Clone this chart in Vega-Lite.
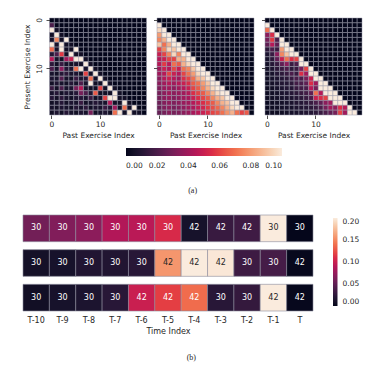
{
"$schema":"https://vega.github.io/schema/vega-lite/v6.json",
"padding":{"left":22,"top":17,"right":4,"bottom":4},
"config":{"font":"DejaVu Sans","view":{"stroke":null},
"axis":{"domain":false,"grid":false,"tickColor":"#262626","tickSize":3.5,"tickWidth":0.8,"labelPadding":2,"titlePadding":3,"labelFontSize":7.5,"titleFontSize":7.5,"titleFontWeight":"normal","labelColor":"#262626","titleColor":"#262626","labelFont":"DejaVu Sans","titleFont":"DejaVu Sans"},
"legend":{"gradientStrokeWidth":0,"labelFontSize":7.5,"labelColor":"#262626","labelFont":"DejaVu Sans"},
"title":{"font":"Liberation Serif","fontSize":8,"fontWeight":"normal","color":"#262626"}},
"datasets":{
"p1":[
{"r":0,"c":0,"v":0},{"r":0,"c":1,"v":0},{"r":0,"c":2,"v":0},{"r":0,"c":3,"v":0},{"r":0,"c":4,"v":0},{"r":0,"c":5,"v":0},{"r":0,"c":6,"v":0},{"r":0,"c":7,"v":0},{"r":0,"c":8,"v":0},{"r":0,"c":9,"v":0},{"r":0,"c":10,"v":0},{"r":0,"c":11,"v":0},{"r":0,"c":12,"v":0},{"r":0,"c":13,"v":0},{"r":0,"c":14,"v":0},{"r":0,"c":15,"v":0},{"r":0,"c":16,"v":0},{"r":0,"c":17,"v":0},{"r":0,"c":18,"v":0},{"r":0,"c":19,"v":0},
{"r":1,"c":0,"v":0.02},{"r":1,"c":1,"v":0},{"r":1,"c":2,"v":0},{"r":1,"c":3,"v":0},{"r":1,"c":4,"v":0},{"r":1,"c":5,"v":0},{"r":1,"c":6,"v":0},{"r":1,"c":7,"v":0},{"r":1,"c":8,"v":0},{"r":1,"c":9,"v":0},{"r":1,"c":10,"v":0},{"r":1,"c":11,"v":0},{"r":1,"c":12,"v":0},{"r":1,"c":13,"v":0},{"r":1,"c":14,"v":0},{"r":1,"c":15,"v":0},{"r":1,"c":16,"v":0},{"r":1,"c":17,"v":0},{"r":1,"c":18,"v":0},{"r":1,"c":19,"v":0},
{"r":2,"c":0,"v":0.1},{"r":2,"c":1,"v":0.004},{"r":2,"c":2,"v":0},{"r":2,"c":3,"v":0},{"r":2,"c":4,"v":0},{"r":2,"c":5,"v":0},{"r":2,"c":6,"v":0},{"r":2,"c":7,"v":0},{"r":2,"c":8,"v":0},{"r":2,"c":9,"v":0},{"r":2,"c":10,"v":0},{"r":2,"c":11,"v":0},{"r":2,"c":12,"v":0},{"r":2,"c":13,"v":0},{"r":2,"c":14,"v":0},{"r":2,"c":15,"v":0},{"r":2,"c":16,"v":0},{"r":2,"c":17,"v":0},{"r":2,"c":18,"v":0},{"r":2,"c":19,"v":0},
{"r":3,"c":0,"v":0.004},{"r":3,"c":1,"v":0.1},{"r":3,"c":2,"v":0.004},{"r":3,"c":3,"v":0},{"r":3,"c":4,"v":0},{"r":3,"c":5,"v":0},{"r":3,"c":6,"v":0},{"r":3,"c":7,"v":0},{"r":3,"c":8,"v":0},{"r":3,"c":9,"v":0},{"r":3,"c":10,"v":0},{"r":3,"c":11,"v":0},{"r":3,"c":12,"v":0},{"r":3,"c":13,"v":0},{"r":3,"c":14,"v":0},{"r":3,"c":15,"v":0},{"r":3,"c":16,"v":0},{"r":3,"c":17,"v":0},{"r":3,"c":18,"v":0},{"r":3,"c":19,"v":0},
{"r":4,"c":0,"v":0.006},{"r":4,"c":1,"v":0.075},{"r":4,"c":2,"v":0.004},{"r":4,"c":3,"v":0.1},{"r":4,"c":4,"v":0},{"r":4,"c":5,"v":0},{"r":4,"c":6,"v":0},{"r":4,"c":7,"v":0},{"r":4,"c":8,"v":0},{"r":4,"c":9,"v":0},{"r":4,"c":10,"v":0},{"r":4,"c":11,"v":0},{"r":4,"c":12,"v":0},{"r":4,"c":13,"v":0},{"r":4,"c":14,"v":0},{"r":4,"c":15,"v":0},{"r":4,"c":16,"v":0},{"r":4,"c":17,"v":0},{"r":4,"c":18,"v":0},{"r":4,"c":19,"v":0},
{"r":5,"c":0,"v":0.1},{"r":5,"c":1,"v":0.006},{"r":5,"c":2,"v":0.1},{"r":5,"c":3,"v":0.004},{"r":5,"c":4,"v":0.004},{"r":5,"c":5,"v":0},{"r":5,"c":6,"v":0},{"r":5,"c":7,"v":0},{"r":5,"c":8,"v":0},{"r":5,"c":9,"v":0},{"r":5,"c":10,"v":0},{"r":5,"c":11,"v":0},{"r":5,"c":12,"v":0},{"r":5,"c":13,"v":0},{"r":5,"c":14,"v":0},{"r":5,"c":15,"v":0},{"r":5,"c":16,"v":0},{"r":5,"c":17,"v":0},{"r":5,"c":18,"v":0},{"r":5,"c":19,"v":0},
{"r":6,"c":0,"v":0.068},{"r":6,"c":1,"v":0.006},{"r":6,"c":2,"v":0.1},{"r":6,"c":3,"v":0.004},{"r":6,"c":4,"v":0.004},{"r":6,"c":5,"v":0.1},{"r":6,"c":6,"v":0},{"r":6,"c":7,"v":0},{"r":6,"c":8,"v":0},{"r":6,"c":9,"v":0},{"r":6,"c":10,"v":0},{"r":6,"c":11,"v":0},{"r":6,"c":12,"v":0},{"r":6,"c":13,"v":0},{"r":6,"c":14,"v":0},{"r":6,"c":15,"v":0},{"r":6,"c":16,"v":0},{"r":6,"c":17,"v":0},{"r":6,"c":18,"v":0},{"r":6,"c":19,"v":0},
{"r":7,"c":0,"v":0.01},{"r":7,"c":1,"v":0.02},{"r":7,"c":2,"v":0.058},{"r":7,"c":3,"v":0.004},{"r":7,"c":4,"v":0.1},{"r":7,"c":5,"v":0.004},{"r":7,"c":6,"v":0.004},{"r":7,"c":7,"v":0},{"r":7,"c":8,"v":0},{"r":7,"c":9,"v":0},{"r":7,"c":10,"v":0},{"r":7,"c":11,"v":0},{"r":7,"c":12,"v":0},{"r":7,"c":13,"v":0},{"r":7,"c":14,"v":0},{"r":7,"c":15,"v":0},{"r":7,"c":16,"v":0},{"r":7,"c":17,"v":0},{"r":7,"c":18,"v":0},{"r":7,"c":19,"v":0},
{"r":8,"c":0,"v":0.045},{"r":8,"c":1,"v":0.006},{"r":8,"c":2,"v":0.004},{"r":8,"c":3,"v":0.04},{"r":8,"c":4,"v":0.05},{"r":8,"c":5,"v":0.1},{"r":8,"c":6,"v":0.1},{"r":8,"c":7,"v":0.004},{"r":8,"c":8,"v":0},{"r":8,"c":9,"v":0},{"r":8,"c":10,"v":0},{"r":8,"c":11,"v":0},{"r":8,"c":12,"v":0},{"r":8,"c":13,"v":0},{"r":8,"c":14,"v":0},{"r":8,"c":15,"v":0},{"r":8,"c":16,"v":0},{"r":8,"c":17,"v":0},{"r":8,"c":18,"v":0},{"r":8,"c":19,"v":0},
{"r":9,"c":0,"v":0.012},{"r":9,"c":1,"v":0.004},{"r":9,"c":2,"v":0.015},{"r":9,"c":3,"v":0.006},{"r":9,"c":4,"v":0.004},{"r":9,"c":5,"v":0.006},{"r":9,"c":6,"v":0.004},{"r":9,"c":7,"v":0.1},{"r":9,"c":8,"v":0.004},{"r":9,"c":9,"v":0},{"r":9,"c":10,"v":0},{"r":9,"c":11,"v":0},{"r":9,"c":12,"v":0},{"r":9,"c":13,"v":0},{"r":9,"c":14,"v":0},{"r":9,"c":15,"v":0},{"r":9,"c":16,"v":0},{"r":9,"c":17,"v":0},{"r":9,"c":18,"v":0},{"r":9,"c":19,"v":0},
{"r":10,"c":0,"v":0.02},{"r":10,"c":1,"v":0.006},{"r":10,"c":2,"v":0.035},{"r":10,"c":3,"v":0.01},{"r":10,"c":4,"v":0.008},{"r":10,"c":5,"v":0.07},{"r":10,"c":6,"v":0.1},{"r":10,"c":7,"v":0.006},{"r":10,"c":8,"v":0.1},{"r":10,"c":9,"v":0.004},{"r":10,"c":10,"v":0},{"r":10,"c":11,"v":0},{"r":10,"c":12,"v":0},{"r":10,"c":13,"v":0},{"r":10,"c":14,"v":0},{"r":10,"c":15,"v":0},{"r":10,"c":16,"v":0},{"r":10,"c":17,"v":0},{"r":10,"c":18,"v":0},{"r":10,"c":19,"v":0},
{"r":11,"c":0,"v":0.006},{"r":11,"c":1,"v":0.004},{"r":11,"c":2,"v":0.01},{"r":11,"c":3,"v":0.012},{"r":11,"c":4,"v":0.006},{"r":11,"c":5,"v":0.008},{"r":11,"c":6,"v":0.004},{"r":11,"c":7,"v":0.06},{"r":11,"c":8,"v":0.004},{"r":11,"c":9,"v":0.1},{"r":11,"c":10,"v":0.004},{"r":11,"c":11,"v":0},{"r":11,"c":12,"v":0},{"r":11,"c":13,"v":0},{"r":11,"c":14,"v":0},{"r":11,"c":15,"v":0},{"r":11,"c":16,"v":0},{"r":11,"c":17,"v":0},{"r":11,"c":18,"v":0},{"r":11,"c":19,"v":0},
{"r":12,"c":0,"v":0.008},{"r":12,"c":1,"v":0.006},{"r":12,"c":2,"v":0.022},{"r":12,"c":3,"v":0.006},{"r":12,"c":4,"v":0.004},{"r":12,"c":5,"v":0.015},{"r":12,"c":6,"v":0.008},{"r":12,"c":7,"v":0.01},{"r":12,"c":8,"v":0.07},{"r":12,"c":9,"v":0.004},{"r":12,"c":10,"v":0.1},{"r":12,"c":11,"v":0.004},{"r":12,"c":12,"v":0},{"r":12,"c":13,"v":0},{"r":12,"c":14,"v":0},{"r":12,"c":15,"v":0},{"r":12,"c":16,"v":0},{"r":12,"c":17,"v":0},{"r":12,"c":18,"v":0},{"r":12,"c":19,"v":0},
{"r":13,"c":0,"v":0.004},{"r":13,"c":1,"v":0.008},{"r":13,"c":2,"v":0.006},{"r":13,"c":3,"v":0.004},{"r":13,"c":4,"v":0.01},{"r":13,"c":5,"v":0.006},{"r":13,"c":6,"v":0.02},{"r":13,"c":7,"v":0.006},{"r":13,"c":8,"v":0.1},{"r":13,"c":9,"v":0.004},{"r":13,"c":10,"v":0.004},{"r":13,"c":11,"v":0.1},{"r":13,"c":12,"v":0.004},{"r":13,"c":13,"v":0},{"r":13,"c":14,"v":0},{"r":13,"c":15,"v":0},{"r":13,"c":16,"v":0},{"r":13,"c":17,"v":0},{"r":13,"c":18,"v":0},{"r":13,"c":19,"v":0},
{"r":14,"c":0,"v":0.015},{"r":14,"c":1,"v":0.004},{"r":14,"c":2,"v":0.02},{"r":14,"c":3,"v":0.006},{"r":14,"c":4,"v":0.008},{"r":14,"c":5,"v":0.03},{"r":14,"c":6,"v":0.045},{"r":14,"c":7,"v":0.006},{"r":14,"c":8,"v":0.004},{"r":14,"c":9,"v":0.004},{"r":14,"c":10,"v":0.06},{"r":14,"c":11,"v":0.004},{"r":14,"c":12,"v":0.1},{"r":14,"c":13,"v":0.004},{"r":14,"c":14,"v":0},{"r":14,"c":15,"v":0},{"r":14,"c":16,"v":0},{"r":14,"c":17,"v":0},{"r":14,"c":18,"v":0},{"r":14,"c":19,"v":0},
{"r":15,"c":0,"v":0.006},{"r":15,"c":1,"v":0.01},{"r":15,"c":2,"v":0.004},{"r":15,"c":3,"v":0.008},{"r":15,"c":4,"v":0.006},{"r":15,"c":5,"v":0.01},{"r":15,"c":6,"v":0.03},{"r":15,"c":7,"v":0.02},{"r":15,"c":8,"v":0.008},{"r":15,"c":9,"v":0.065},{"r":15,"c":10,"v":0.004},{"r":15,"c":11,"v":0.004},{"r":15,"c":12,"v":0.004},{"r":15,"c":13,"v":0.1},{"r":15,"c":14,"v":0.004},{"r":15,"c":15,"v":0},{"r":15,"c":16,"v":0},{"r":15,"c":17,"v":0},{"r":15,"c":18,"v":0},{"r":15,"c":19,"v":0},
{"r":16,"c":0,"v":0.01},{"r":16,"c":1,"v":0.004},{"r":16,"c":2,"v":0.012},{"r":16,"c":3,"v":0.006},{"r":16,"c":4,"v":0.004},{"r":16,"c":5,"v":0.008},{"r":16,"c":6,"v":0.01},{"r":16,"c":7,"v":0.006},{"r":16,"c":8,"v":0.015},{"r":16,"c":9,"v":0.004},{"r":16,"c":10,"v":0.006},{"r":16,"c":11,"v":0.06},{"r":16,"c":12,"v":0.1},{"r":16,"c":13,"v":0.1},{"r":16,"c":14,"v":0.004},{"r":16,"c":15,"v":0.004},{"r":16,"c":16,"v":0},{"r":16,"c":17,"v":0},{"r":16,"c":18,"v":0},{"r":16,"c":19,"v":0},
{"r":17,"c":0,"v":0.004},{"r":17,"c":1,"v":0.006},{"r":17,"c":2,"v":0.01},{"r":17,"c":3,"v":0.004},{"r":17,"c":4,"v":0.008},{"r":17,"c":5,"v":0.006},{"r":17,"c":6,"v":0.015},{"r":17,"c":7,"v":0.004},{"r":17,"c":8,"v":0.006},{"r":17,"c":9,"v":0.01},{"r":17,"c":10,"v":0.008},{"r":17,"c":11,"v":0.006},{"r":17,"c":12,"v":0.045},{"r":17,"c":13,"v":0.004},{"r":17,"c":14,"v":0.004},{"r":17,"c":15,"v":0.1},{"r":17,"c":16,"v":0.004},{"r":17,"c":17,"v":0},{"r":17,"c":18,"v":0},{"r":17,"c":19,"v":0},
{"r":18,"c":0,"v":0.006},{"r":18,"c":1,"v":0.004},{"r":18,"c":2,"v":0.008},{"r":18,"c":3,"v":0.006},{"r":18,"c":4,"v":0.004},{"r":18,"c":5,"v":0.01},{"r":18,"c":6,"v":0.006},{"r":18,"c":7,"v":0.012},{"r":18,"c":8,"v":0.004},{"r":18,"c":9,"v":0.008},{"r":18,"c":10,"v":0.006},{"r":18,"c":11,"v":0.015},{"r":18,"c":12,"v":0.01},{"r":18,"c":13,"v":0.04},{"r":18,"c":14,"v":0.004},{"r":18,"c":15,"v":0.07},{"r":18,"c":16,"v":0.004},{"r":18,"c":17,"v":0.1},{"r":18,"c":18,"v":0},{"r":18,"c":19,"v":0},
{"r":19,"c":0,"v":0.004},{"r":19,"c":1,"v":0.008},{"r":19,"c":2,"v":0.004},{"r":19,"c":3,"v":0.01},{"r":19,"c":4,"v":0.006},{"r":19,"c":5,"v":0.004},{"r":19,"c":6,"v":0.008},{"r":19,"c":7,"v":0.006},{"r":19,"c":8,"v":0.03},{"r":19,"c":9,"v":0.004},{"r":19,"c":10,"v":0.006},{"r":19,"c":11,"v":0.008},{"r":19,"c":12,"v":0.004},{"r":19,"c":13,"v":0.07},{"r":19,"c":14,"v":0.1},{"r":19,"c":15,"v":0.004},{"r":19,"c":16,"v":0.1},{"r":19,"c":17,"v":0.004},{"r":19,"c":18,"v":0.004},{"r":19,"c":19,"v":0}
],
"p2":[
{"r":0,"c":0,"v":0},{"r":0,"c":1,"v":0},{"r":0,"c":2,"v":0},{"r":0,"c":3,"v":0},{"r":0,"c":4,"v":0},{"r":0,"c":5,"v":0},{"r":0,"c":6,"v":0},{"r":0,"c":7,"v":0},{"r":0,"c":8,"v":0},{"r":0,"c":9,"v":0},{"r":0,"c":10,"v":0},{"r":0,"c":11,"v":0},{"r":0,"c":12,"v":0},{"r":0,"c":13,"v":0},{"r":0,"c":14,"v":0},{"r":0,"c":15,"v":0},{"r":0,"c":16,"v":0},{"r":0,"c":17,"v":0},{"r":0,"c":18,"v":0},{"r":0,"c":19,"v":0},
{"r":1,"c":0,"v":0.1},{"r":1,"c":1,"v":0},{"r":1,"c":2,"v":0},{"r":1,"c":3,"v":0},{"r":1,"c":4,"v":0},{"r":1,"c":5,"v":0},{"r":1,"c":6,"v":0},{"r":1,"c":7,"v":0},{"r":1,"c":8,"v":0},{"r":1,"c":9,"v":0},{"r":1,"c":10,"v":0},{"r":1,"c":11,"v":0},{"r":1,"c":12,"v":0},{"r":1,"c":13,"v":0},{"r":1,"c":14,"v":0},{"r":1,"c":15,"v":0},{"r":1,"c":16,"v":0},{"r":1,"c":17,"v":0},{"r":1,"c":18,"v":0},{"r":1,"c":19,"v":0},
{"r":2,"c":0,"v":0.095},{"r":2,"c":1,"v":0.1},{"r":2,"c":2,"v":0},{"r":2,"c":3,"v":0},{"r":2,"c":4,"v":0},{"r":2,"c":5,"v":0},{"r":2,"c":6,"v":0},{"r":2,"c":7,"v":0},{"r":2,"c":8,"v":0},{"r":2,"c":9,"v":0},{"r":2,"c":10,"v":0},{"r":2,"c":11,"v":0},{"r":2,"c":12,"v":0},{"r":2,"c":13,"v":0},{"r":2,"c":14,"v":0},{"r":2,"c":15,"v":0},{"r":2,"c":16,"v":0},{"r":2,"c":17,"v":0},{"r":2,"c":18,"v":0},{"r":2,"c":19,"v":0},
{"r":3,"c":0,"v":0.08},{"r":3,"c":1,"v":0.1},{"r":3,"c":2,"v":0.1},{"r":3,"c":3,"v":0},{"r":3,"c":4,"v":0},{"r":3,"c":5,"v":0},{"r":3,"c":6,"v":0},{"r":3,"c":7,"v":0},{"r":3,"c":8,"v":0},{"r":3,"c":9,"v":0},{"r":3,"c":10,"v":0},{"r":3,"c":11,"v":0},{"r":3,"c":12,"v":0},{"r":3,"c":13,"v":0},{"r":3,"c":14,"v":0},{"r":3,"c":15,"v":0},{"r":3,"c":16,"v":0},{"r":3,"c":17,"v":0},{"r":3,"c":18,"v":0},{"r":3,"c":19,"v":0},
{"r":4,"c":0,"v":0.075},{"r":4,"c":1,"v":0.085},{"r":4,"c":2,"v":0.1},{"r":4,"c":3,"v":0.1},{"r":4,"c":4,"v":0},{"r":4,"c":5,"v":0},{"r":4,"c":6,"v":0},{"r":4,"c":7,"v":0},{"r":4,"c":8,"v":0},{"r":4,"c":9,"v":0},{"r":4,"c":10,"v":0},{"r":4,"c":11,"v":0},{"r":4,"c":12,"v":0},{"r":4,"c":13,"v":0},{"r":4,"c":14,"v":0},{"r":4,"c":15,"v":0},{"r":4,"c":16,"v":0},{"r":4,"c":17,"v":0},{"r":4,"c":18,"v":0},{"r":4,"c":19,"v":0},
{"r":5,"c":0,"v":0.09},{"r":5,"c":1,"v":0.07},{"r":5,"c":2,"v":0.085},{"r":5,"c":3,"v":0.1},{"r":5,"c":4,"v":0.1},{"r":5,"c":5,"v":0},{"r":5,"c":6,"v":0},{"r":5,"c":7,"v":0},{"r":5,"c":8,"v":0},{"r":5,"c":9,"v":0},{"r":5,"c":10,"v":0},{"r":5,"c":11,"v":0},{"r":5,"c":12,"v":0},{"r":5,"c":13,"v":0},{"r":5,"c":14,"v":0},{"r":5,"c":15,"v":0},{"r":5,"c":16,"v":0},{"r":5,"c":17,"v":0},{"r":5,"c":18,"v":0},{"r":5,"c":19,"v":0},
{"r":6,"c":0,"v":0.06},{"r":6,"c":1,"v":0.075},{"r":6,"c":2,"v":0.095},{"r":6,"c":3,"v":0.09},{"r":6,"c":4,"v":0.1},{"r":6,"c":5,"v":0.1},{"r":6,"c":6,"v":0},{"r":6,"c":7,"v":0},{"r":6,"c":8,"v":0},{"r":6,"c":9,"v":0},{"r":6,"c":10,"v":0},{"r":6,"c":11,"v":0},{"r":6,"c":12,"v":0},{"r":6,"c":13,"v":0},{"r":6,"c":14,"v":0},{"r":6,"c":15,"v":0},{"r":6,"c":16,"v":0},{"r":6,"c":17,"v":0},{"r":6,"c":18,"v":0},{"r":6,"c":19,"v":0},
{"r":7,"c":0,"v":0.05},{"r":7,"c":1,"v":0.06},{"r":7,"c":2,"v":0.075},{"r":7,"c":3,"v":0.095},{"r":7,"c":4,"v":0.075},{"r":7,"c":5,"v":0.1},{"r":7,"c":6,"v":0.1},{"r":7,"c":7,"v":0},{"r":7,"c":8,"v":0},{"r":7,"c":9,"v":0},{"r":7,"c":10,"v":0},{"r":7,"c":11,"v":0},{"r":7,"c":12,"v":0},{"r":7,"c":13,"v":0},{"r":7,"c":14,"v":0},{"r":7,"c":15,"v":0},{"r":7,"c":16,"v":0},{"r":7,"c":17,"v":0},{"r":7,"c":18,"v":0},{"r":7,"c":19,"v":0},
{"r":8,"c":0,"v":0.045},{"r":8,"c":1,"v":0.05},{"r":8,"c":2,"v":0.06},{"r":8,"c":3,"v":0.06},{"r":8,"c":4,"v":0.085},{"r":8,"c":5,"v":0.085},{"r":8,"c":6,"v":0.1},{"r":8,"c":7,"v":0.1},{"r":8,"c":8,"v":0},{"r":8,"c":9,"v":0},{"r":8,"c":10,"v":0},{"r":8,"c":11,"v":0},{"r":8,"c":12,"v":0},{"r":8,"c":13,"v":0},{"r":8,"c":14,"v":0},{"r":8,"c":15,"v":0},{"r":8,"c":16,"v":0},{"r":8,"c":17,"v":0},{"r":8,"c":18,"v":0},{"r":8,"c":19,"v":0},
{"r":9,"c":0,"v":0.045},{"r":9,"c":1,"v":0.058},{"r":9,"c":2,"v":0.047},{"r":9,"c":3,"v":0.07},{"r":9,"c":4,"v":0.065},{"r":9,"c":5,"v":0.085},{"r":9,"c":6,"v":0.095},{"r":9,"c":7,"v":0.1},{"r":9,"c":8,"v":0.1},{"r":9,"c":9,"v":0},{"r":9,"c":10,"v":0},{"r":9,"c":11,"v":0},{"r":9,"c":12,"v":0},{"r":9,"c":13,"v":0},{"r":9,"c":14,"v":0},{"r":9,"c":15,"v":0},{"r":9,"c":16,"v":0},{"r":9,"c":17,"v":0},{"r":9,"c":18,"v":0},{"r":9,"c":19,"v":0},
{"r":10,"c":0,"v":0.04},{"r":10,"c":1,"v":0.05},{"r":10,"c":2,"v":0.045},{"r":10,"c":3,"v":0.06},{"r":10,"c":4,"v":0.05},{"r":10,"c":5,"v":0.07},{"r":10,"c":6,"v":0.075},{"r":10,"c":7,"v":0.09},{"r":10,"c":8,"v":0.1},{"r":10,"c":9,"v":0.1},{"r":10,"c":10,"v":0},{"r":10,"c":11,"v":0},{"r":10,"c":12,"v":0},{"r":10,"c":13,"v":0},{"r":10,"c":14,"v":0},{"r":10,"c":15,"v":0},{"r":10,"c":16,"v":0},{"r":10,"c":17,"v":0},{"r":10,"c":18,"v":0},{"r":10,"c":19,"v":0},
{"r":11,"c":0,"v":0.04},{"r":11,"c":1,"v":0.045},{"r":11,"c":2,"v":0.06},{"r":11,"c":3,"v":0.05},{"r":11,"c":4,"v":0.045},{"r":11,"c":5,"v":0.06},{"r":11,"c":6,"v":0.07},{"r":11,"c":7,"v":0.08},{"r":11,"c":8,"v":0.095},{"r":11,"c":9,"v":0.1},{"r":11,"c":10,"v":0.1},{"r":11,"c":11,"v":0},{"r":11,"c":12,"v":0},{"r":11,"c":13,"v":0},{"r":11,"c":14,"v":0},{"r":11,"c":15,"v":0},{"r":11,"c":16,"v":0},{"r":11,"c":17,"v":0},{"r":11,"c":18,"v":0},{"r":11,"c":19,"v":0},
{"r":12,"c":0,"v":0.035},{"r":12,"c":1,"v":0.045},{"r":12,"c":2,"v":0.05},{"r":12,"c":3,"v":0.045},{"r":12,"c":4,"v":0.04},{"r":12,"c":5,"v":0.055},{"r":12,"c":6,"v":0.06},{"r":12,"c":7,"v":0.07},{"r":12,"c":8,"v":0.085},{"r":12,"c":9,"v":0.09},{"r":12,"c":10,"v":0.1},{"r":12,"c":11,"v":0.1},{"r":12,"c":12,"v":0},{"r":12,"c":13,"v":0},{"r":12,"c":14,"v":0},{"r":12,"c":15,"v":0},{"r":12,"c":16,"v":0},{"r":12,"c":17,"v":0},{"r":12,"c":18,"v":0},{"r":12,"c":19,"v":0},
{"r":13,"c":0,"v":0.035},{"r":13,"c":1,"v":0.04},{"r":13,"c":2,"v":0.045},{"r":13,"c":3,"v":0.04},{"r":13,"c":4,"v":0.045},{"r":13,"c":5,"v":0.05},{"r":13,"c":6,"v":0.055},{"r":13,"c":7,"v":0.065},{"r":13,"c":8,"v":0.07},{"r":13,"c":9,"v":0.08},{"r":13,"c":10,"v":0.09},{"r":13,"c":11,"v":0.1},{"r":13,"c":12,"v":0.1},{"r":13,"c":13,"v":0},{"r":13,"c":14,"v":0},{"r":13,"c":15,"v":0},{"r":13,"c":16,"v":0},{"r":13,"c":17,"v":0},{"r":13,"c":18,"v":0},{"r":13,"c":19,"v":0},
{"r":14,"c":0,"v":0.032},{"r":14,"c":1,"v":0.038},{"r":14,"c":2,"v":0.04},{"r":14,"c":3,"v":0.035},{"r":14,"c":4,"v":0.04},{"r":14,"c":5,"v":0.045},{"r":14,"c":6,"v":0.05},{"r":14,"c":7,"v":0.06},{"r":14,"c":8,"v":0.065},{"r":14,"c":9,"v":0.075},{"r":14,"c":10,"v":0.085},{"r":14,"c":11,"v":0.095},{"r":14,"c":12,"v":0.1},{"r":14,"c":13,"v":0.1},{"r":14,"c":14,"v":0},{"r":14,"c":15,"v":0},{"r":14,"c":16,"v":0},{"r":14,"c":17,"v":0},{"r":14,"c":18,"v":0},{"r":14,"c":19,"v":0},
{"r":15,"c":0,"v":0.03},{"r":15,"c":1,"v":0.035},{"r":15,"c":2,"v":0.04},{"r":15,"c":3,"v":0.035},{"r":15,"c":4,"v":0.038},{"r":15,"c":5,"v":0.04},{"r":15,"c":6,"v":0.045},{"r":15,"c":7,"v":0.055},{"r":15,"c":8,"v":0.06},{"r":15,"c":9,"v":0.065},{"r":15,"c":10,"v":0.075},{"r":15,"c":11,"v":0.085},{"r":15,"c":12,"v":0.095},{"r":15,"c":13,"v":0.1},{"r":15,"c":14,"v":0.1},{"r":15,"c":15,"v":0},{"r":15,"c":16,"v":0},{"r":15,"c":17,"v":0},{"r":15,"c":18,"v":0},{"r":15,"c":19,"v":0},
{"r":16,"c":0,"v":0.03},{"r":16,"c":1,"v":0.035},{"r":16,"c":2,"v":0.038},{"r":16,"c":3,"v":0.033},{"r":16,"c":4,"v":0.036},{"r":16,"c":5,"v":0.04},{"r":16,"c":6,"v":0.042},{"r":16,"c":7,"v":0.05},{"r":16,"c":8,"v":0.055},{"r":16,"c":9,"v":0.06},{"r":16,"c":10,"v":0.065},{"r":16,"c":11,"v":0.075},{"r":16,"c":12,"v":0.085},{"r":16,"c":13,"v":0.09},{"r":16,"c":14,"v":0.1},{"r":16,"c":15,"v":0.1},{"r":16,"c":16,"v":0},{"r":16,"c":17,"v":0},{"r":16,"c":18,"v":0},{"r":16,"c":19,"v":0},
{"r":17,"c":0,"v":0.028},{"r":17,"c":1,"v":0.033},{"r":17,"c":2,"v":0.036},{"r":17,"c":3,"v":0.032},{"r":17,"c":4,"v":0.035},{"r":17,"c":5,"v":0.038},{"r":17,"c":6,"v":0.04},{"r":17,"c":7,"v":0.045},{"r":17,"c":8,"v":0.05},{"r":17,"c":9,"v":0.055},{"r":17,"c":10,"v":0.06},{"r":17,"c":11,"v":0.065},{"r":17,"c":12,"v":0.075},{"r":17,"c":13,"v":0.085},{"r":17,"c":14,"v":0.09},{"r":17,"c":15,"v":0.1},{"r":17,"c":16,"v":0.1},{"r":17,"c":17,"v":0},{"r":17,"c":18,"v":0},{"r":17,"c":19,"v":0},
{"r":18,"c":0,"v":0.027},{"r":18,"c":1,"v":0.032},{"r":18,"c":2,"v":0.035},{"r":18,"c":3,"v":0.03},{"r":18,"c":4,"v":0.033},{"r":18,"c":5,"v":0.036},{"r":18,"c":6,"v":0.04},{"r":18,"c":7,"v":0.043},{"r":18,"c":8,"v":0.048},{"r":18,"c":9,"v":0.052},{"r":18,"c":10,"v":0.058},{"r":18,"c":11,"v":0.062},{"r":18,"c":12,"v":0.068},{"r":18,"c":13,"v":0.075},{"r":18,"c":14,"v":0.085},{"r":18,"c":15,"v":0.095},{"r":18,"c":16,"v":0.1},{"r":18,"c":17,"v":0.1},{"r":18,"c":18,"v":0},{"r":18,"c":19,"v":0},
{"r":19,"c":0,"v":0.026},{"r":19,"c":1,"v":0.03},{"r":19,"c":2,"v":0.034},{"r":19,"c":3,"v":0.03},{"r":19,"c":4,"v":0.032},{"r":19,"c":5,"v":0.035},{"r":19,"c":6,"v":0.038},{"r":19,"c":7,"v":0.042},{"r":19,"c":8,"v":0.046},{"r":19,"c":9,"v":0.05},{"r":19,"c":10,"v":0.055},{"r":19,"c":11,"v":0.06},{"r":19,"c":12,"v":0.063},{"r":19,"c":13,"v":0.07},{"r":19,"c":14,"v":0.078},{"r":19,"c":15,"v":0.085},{"r":19,"c":16,"v":0.07},{"r":19,"c":17,"v":0.06},{"r":19,"c":18,"v":0.065},{"r":19,"c":19,"v":0}
],
"p3":[
{"r":0,"c":0,"v":0},{"r":0,"c":1,"v":0},{"r":0,"c":2,"v":0},{"r":0,"c":3,"v":0},{"r":0,"c":4,"v":0},{"r":0,"c":5,"v":0},{"r":0,"c":6,"v":0},{"r":0,"c":7,"v":0},{"r":0,"c":8,"v":0},{"r":0,"c":9,"v":0},{"r":0,"c":10,"v":0},{"r":0,"c":11,"v":0},{"r":0,"c":12,"v":0},{"r":0,"c":13,"v":0},{"r":0,"c":14,"v":0},{"r":0,"c":15,"v":0},{"r":0,"c":16,"v":0},{"r":0,"c":17,"v":0},{"r":0,"c":18,"v":0},{"r":0,"c":19,"v":0},
{"r":1,"c":0,"v":0.1},{"r":1,"c":1,"v":0},{"r":1,"c":2,"v":0},{"r":1,"c":3,"v":0},{"r":1,"c":4,"v":0},{"r":1,"c":5,"v":0},{"r":1,"c":6,"v":0},{"r":1,"c":7,"v":0},{"r":1,"c":8,"v":0},{"r":1,"c":9,"v":0},{"r":1,"c":10,"v":0},{"r":1,"c":11,"v":0},{"r":1,"c":12,"v":0},{"r":1,"c":13,"v":0},{"r":1,"c":14,"v":0},{"r":1,"c":15,"v":0},{"r":1,"c":16,"v":0},{"r":1,"c":17,"v":0},{"r":1,"c":18,"v":0},{"r":1,"c":19,"v":0},
{"r":2,"c":0,"v":0.07},{"r":2,"c":1,"v":0.1},{"r":2,"c":2,"v":0},{"r":2,"c":3,"v":0},{"r":2,"c":4,"v":0},{"r":2,"c":5,"v":0},{"r":2,"c":6,"v":0},{"r":2,"c":7,"v":0},{"r":2,"c":8,"v":0},{"r":2,"c":9,"v":0},{"r":2,"c":10,"v":0},{"r":2,"c":11,"v":0},{"r":2,"c":12,"v":0},{"r":2,"c":13,"v":0},{"r":2,"c":14,"v":0},{"r":2,"c":15,"v":0},{"r":2,"c":16,"v":0},{"r":2,"c":17,"v":0},{"r":2,"c":18,"v":0},{"r":2,"c":19,"v":0},
{"r":3,"c":0,"v":0.035},{"r":3,"c":1,"v":0.055},{"r":3,"c":2,"v":0.1},{"r":3,"c":3,"v":0},{"r":3,"c":4,"v":0},{"r":3,"c":5,"v":0},{"r":3,"c":6,"v":0},{"r":3,"c":7,"v":0},{"r":3,"c":8,"v":0},{"r":3,"c":9,"v":0},{"r":3,"c":10,"v":0},{"r":3,"c":11,"v":0},{"r":3,"c":12,"v":0},{"r":3,"c":13,"v":0},{"r":3,"c":14,"v":0},{"r":3,"c":15,"v":0},{"r":3,"c":16,"v":0},{"r":3,"c":17,"v":0},{"r":3,"c":18,"v":0},{"r":3,"c":19,"v":0},
{"r":4,"c":0,"v":0.03},{"r":4,"c":1,"v":0.058},{"r":4,"c":2,"v":0.02},{"r":4,"c":3,"v":0.1},{"r":4,"c":4,"v":0},{"r":4,"c":5,"v":0},{"r":4,"c":6,"v":0},{"r":4,"c":7,"v":0},{"r":4,"c":8,"v":0},{"r":4,"c":9,"v":0},{"r":4,"c":10,"v":0},{"r":4,"c":11,"v":0},{"r":4,"c":12,"v":0},{"r":4,"c":13,"v":0},{"r":4,"c":14,"v":0},{"r":4,"c":15,"v":0},{"r":4,"c":16,"v":0},{"r":4,"c":17,"v":0},{"r":4,"c":18,"v":0},{"r":4,"c":19,"v":0},
{"r":5,"c":0,"v":0.025},{"r":5,"c":1,"v":0.045},{"r":5,"c":2,"v":0.025},{"r":5,"c":3,"v":0.1},{"r":5,"c":4,"v":0.1},{"r":5,"c":5,"v":0},{"r":5,"c":6,"v":0},{"r":5,"c":7,"v":0},{"r":5,"c":8,"v":0},{"r":5,"c":9,"v":0},{"r":5,"c":10,"v":0},{"r":5,"c":11,"v":0},{"r":5,"c":12,"v":0},{"r":5,"c":13,"v":0},{"r":5,"c":14,"v":0},{"r":5,"c":15,"v":0},{"r":5,"c":16,"v":0},{"r":5,"c":17,"v":0},{"r":5,"c":18,"v":0},{"r":5,"c":19,"v":0},
{"r":6,"c":0,"v":0.012},{"r":6,"c":1,"v":0.02},{"r":6,"c":2,"v":0.015},{"r":6,"c":3,"v":0.08},{"r":6,"c":4,"v":0.1},{"r":6,"c":5,"v":0.1},{"r":6,"c":6,"v":0},{"r":6,"c":7,"v":0},{"r":6,"c":8,"v":0},{"r":6,"c":9,"v":0},{"r":6,"c":10,"v":0},{"r":6,"c":11,"v":0},{"r":6,"c":12,"v":0},{"r":6,"c":13,"v":0},{"r":6,"c":14,"v":0},{"r":6,"c":15,"v":0},{"r":6,"c":16,"v":0},{"r":6,"c":17,"v":0},{"r":6,"c":18,"v":0},{"r":6,"c":19,"v":0},
{"r":7,"c":0,"v":0.008},{"r":7,"c":1,"v":0.015},{"r":7,"c":2,"v":0.035},{"r":7,"c":3,"v":0.075},{"r":7,"c":4,"v":0.09},{"r":7,"c":5,"v":0.1},{"r":7,"c":6,"v":0.1},{"r":7,"c":7,"v":0},{"r":7,"c":8,"v":0},{"r":7,"c":9,"v":0},{"r":7,"c":10,"v":0},{"r":7,"c":11,"v":0},{"r":7,"c":12,"v":0},{"r":7,"c":13,"v":0},{"r":7,"c":14,"v":0},{"r":7,"c":15,"v":0},{"r":7,"c":16,"v":0},{"r":7,"c":17,"v":0},{"r":7,"c":18,"v":0},{"r":7,"c":19,"v":0},
{"r":8,"c":0,"v":0.006},{"r":8,"c":1,"v":0.012},{"r":8,"c":2,"v":0.025},{"r":8,"c":3,"v":0.05},{"r":8,"c":4,"v":0.07},{"r":8,"c":5,"v":0.055},{"r":8,"c":6,"v":0.06},{"r":8,"c":7,"v":0.1},{"r":8,"c":8,"v":0},{"r":8,"c":9,"v":0},{"r":8,"c":10,"v":0},{"r":8,"c":11,"v":0},{"r":8,"c":12,"v":0},{"r":8,"c":13,"v":0},{"r":8,"c":14,"v":0},{"r":8,"c":15,"v":0},{"r":8,"c":16,"v":0},{"r":8,"c":17,"v":0},{"r":8,"c":18,"v":0},{"r":8,"c":19,"v":0},
{"r":9,"c":0,"v":0.005},{"r":9,"c":1,"v":0.01},{"r":9,"c":2,"v":0.015},{"r":9,"c":3,"v":0.025},{"r":9,"c":4,"v":0.035},{"r":9,"c":5,"v":0.015},{"r":9,"c":6,"v":0.02},{"r":9,"c":7,"v":0.1},{"r":9,"c":8,"v":0.1},{"r":9,"c":9,"v":0},{"r":9,"c":10,"v":0},{"r":9,"c":11,"v":0},{"r":9,"c":12,"v":0},{"r":9,"c":13,"v":0},{"r":9,"c":14,"v":0},{"r":9,"c":15,"v":0},{"r":9,"c":16,"v":0},{"r":9,"c":17,"v":0},{"r":9,"c":18,"v":0},{"r":9,"c":19,"v":0},
{"r":10,"c":0,"v":0.005},{"r":10,"c":1,"v":0.008},{"r":10,"c":2,"v":0.012},{"r":10,"c":3,"v":0.015},{"r":10,"c":4,"v":0.02},{"r":10,"c":5,"v":0.012},{"r":10,"c":6,"v":0.015},{"r":10,"c":7,"v":0.03},{"r":10,"c":8,"v":0.06},{"r":10,"c":9,"v":0.1},{"r":10,"c":10,"v":0},{"r":10,"c":11,"v":0},{"r":10,"c":12,"v":0},{"r":10,"c":13,"v":0},{"r":10,"c":14,"v":0},{"r":10,"c":15,"v":0},{"r":10,"c":16,"v":0},{"r":10,"c":17,"v":0},{"r":10,"c":18,"v":0},{"r":10,"c":19,"v":0},
{"r":11,"c":0,"v":0.004},{"r":11,"c":1,"v":0.006},{"r":11,"c":2,"v":0.01},{"r":11,"c":3,"v":0.012},{"r":11,"c":4,"v":0.015},{"r":11,"c":5,"v":0.02},{"r":11,"c":6,"v":0.015},{"r":11,"c":7,"v":0.055},{"r":11,"c":8,"v":0.04},{"r":11,"c":9,"v":0.1},{"r":11,"c":10,"v":0.1},{"r":11,"c":11,"v":0},{"r":11,"c":12,"v":0},{"r":11,"c":13,"v":0},{"r":11,"c":14,"v":0},{"r":11,"c":15,"v":0},{"r":11,"c":16,"v":0},{"r":11,"c":17,"v":0},{"r":11,"c":18,"v":0},{"r":11,"c":19,"v":0},
{"r":12,"c":0,"v":0.004},{"r":12,"c":1,"v":0.006},{"r":12,"c":2,"v":0.008},{"r":12,"c":3,"v":0.01},{"r":12,"c":4,"v":0.012},{"r":12,"c":5,"v":0.015},{"r":12,"c":6,"v":0.02},{"r":12,"c":7,"v":0.02},{"r":12,"c":8,"v":0.03},{"r":12,"c":9,"v":0.05},{"r":12,"c":10,"v":0.1},{"r":12,"c":11,"v":0.1},{"r":12,"c":12,"v":0},{"r":12,"c":13,"v":0},{"r":12,"c":14,"v":0},{"r":12,"c":15,"v":0},{"r":12,"c":16,"v":0},{"r":12,"c":17,"v":0},{"r":12,"c":18,"v":0},{"r":12,"c":19,"v":0},
{"r":13,"c":0,"v":0.003},{"r":13,"c":1,"v":0.005},{"r":13,"c":2,"v":0.007},{"r":13,"c":3,"v":0.009},{"r":13,"c":4,"v":0.01},{"r":13,"c":5,"v":0.012},{"r":13,"c":6,"v":0.018},{"r":13,"c":7,"v":0.02},{"r":13,"c":8,"v":0.025},{"r":13,"c":9,"v":0.055},{"r":13,"c":10,"v":0.04},{"r":13,"c":11,"v":0.1},{"r":13,"c":12,"v":0.1},{"r":13,"c":13,"v":0},{"r":13,"c":14,"v":0},{"r":13,"c":15,"v":0},{"r":13,"c":16,"v":0},{"r":13,"c":17,"v":0},{"r":13,"c":18,"v":0},{"r":13,"c":19,"v":0},
{"r":14,"c":0,"v":0.003},{"r":14,"c":1,"v":0.004},{"r":14,"c":2,"v":0.006},{"r":14,"c":3,"v":0.008},{"r":14,"c":4,"v":0.01},{"r":14,"c":5,"v":0.01},{"r":14,"c":6,"v":0.015},{"r":14,"c":7,"v":0.018},{"r":14,"c":8,"v":0.02},{"r":14,"c":9,"v":0.045},{"r":14,"c":10,"v":0.03},{"r":14,"c":11,"v":0.1},{"r":14,"c":12,"v":0.1},{"r":14,"c":13,"v":0.1},{"r":14,"c":14,"v":0},{"r":14,"c":15,"v":0},{"r":14,"c":16,"v":0},{"r":14,"c":17,"v":0},{"r":14,"c":18,"v":0},{"r":14,"c":19,"v":0},
{"r":15,"c":0,"v":0.003},{"r":15,"c":1,"v":0.004},{"r":15,"c":2,"v":0.005},{"r":15,"c":3,"v":0.007},{"r":15,"c":4,"v":0.008},{"r":15,"c":5,"v":0.01},{"r":15,"c":6,"v":0.012},{"r":15,"c":7,"v":0.015},{"r":15,"c":8,"v":0.018},{"r":15,"c":9,"v":0.025},{"r":15,"c":10,"v":0.07},{"r":15,"c":11,"v":0.045},{"r":15,"c":12,"v":0.1},{"r":15,"c":13,"v":0.1},{"r":15,"c":14,"v":0.1},{"r":15,"c":15,"v":0},{"r":15,"c":16,"v":0},{"r":15,"c":17,"v":0},{"r":15,"c":18,"v":0},{"r":15,"c":19,"v":0},
{"r":16,"c":0,"v":0.003},{"r":16,"c":1,"v":0.004},{"r":16,"c":2,"v":0.005},{"r":16,"c":3,"v":0.006},{"r":16,"c":4,"v":0.007},{"r":16,"c":5,"v":0.008},{"r":16,"c":6,"v":0.01},{"r":16,"c":7,"v":0.012},{"r":16,"c":8,"v":0.015},{"r":16,"c":9,"v":0.02},{"r":16,"c":10,"v":0.05},{"r":16,"c":11,"v":0.055},{"r":16,"c":12,"v":0.06},{"r":16,"c":13,"v":0.1},{"r":16,"c":14,"v":0.1},{"r":16,"c":15,"v":0.1},{"r":16,"c":16,"v":0},{"r":16,"c":17,"v":0},{"r":16,"c":18,"v":0},{"r":16,"c":19,"v":0},
{"r":17,"c":0,"v":0.002},{"r":17,"c":1,"v":0.003},{"r":17,"c":2,"v":0.004},{"r":17,"c":3,"v":0.005},{"r":17,"c":4,"v":0.006},{"r":17,"c":5,"v":0.007},{"r":17,"c":6,"v":0.009},{"r":17,"c":7,"v":0.01},{"r":17,"c":8,"v":0.012},{"r":17,"c":9,"v":0.015},{"r":17,"c":10,"v":0.02},{"r":17,"c":11,"v":0.025},{"r":17,"c":12,"v":0.035},{"r":17,"c":13,"v":0.04},{"r":17,"c":14,"v":0.1},{"r":17,"c":15,"v":0.1},{"r":17,"c":16,"v":0.1},{"r":17,"c":17,"v":0},{"r":17,"c":18,"v":0},{"r":17,"c":19,"v":0},
{"r":18,"c":0,"v":0.002},{"r":18,"c":1,"v":0.003},{"r":18,"c":2,"v":0.004},{"r":18,"c":3,"v":0.005},{"r":18,"c":4,"v":0.006},{"r":18,"c":5,"v":0.006},{"r":18,"c":6,"v":0.008},{"r":18,"c":7,"v":0.009},{"r":18,"c":8,"v":0.01},{"r":18,"c":9,"v":0.012},{"r":18,"c":10,"v":0.015},{"r":18,"c":11,"v":0.02},{"r":18,"c":12,"v":0.03},{"r":18,"c":13,"v":0.04},{"r":18,"c":14,"v":0.035},{"r":18,"c":15,"v":0.055},{"r":18,"c":16,"v":0.045},{"r":18,"c":17,"v":0.1},{"r":18,"c":18,"v":0},{"r":18,"c":19,"v":0},
{"r":19,"c":0,"v":0.002},{"r":19,"c":1,"v":0.003},{"r":19,"c":2,"v":0.003},{"r":19,"c":3,"v":0.004},{"r":19,"c":4,"v":0.005},{"r":19,"c":5,"v":0.006},{"r":19,"c":6,"v":0.007},{"r":19,"c":7,"v":0.008},{"r":19,"c":8,"v":0.009},{"r":19,"c":9,"v":0.01},{"r":19,"c":10,"v":0.012},{"r":19,"c":11,"v":0.015},{"r":19,"c":12,"v":0.02},{"r":19,"c":13,"v":0.025},{"r":19,"c":14,"v":0.03},{"r":19,"c":15,"v":0.06},{"r":19,"c":16,"v":0.04},{"r":19,"c":17,"v":0.1},{"r":19,"c":18,"v":0.1},{"r":19,"c":19,"v":0}
],
"bt":[
{"row":1,"t":"T-10","v":0.058,"lbl":"30"},{"row":1,"t":"T-9","v":0.065,"lbl":"30"},{"row":1,"t":"T-8","v":0.07,"lbl":"30"},{"row":1,"t":"T-7","v":0.088,"lbl":"30"},{"row":1,"t":"T-6","v":0.092,"lbl":"30"},{"row":1,"t":"T-5","v":0.108,"lbl":"30"},{"row":1,"t":"T-4","v":0.012,"lbl":"42"},{"row":1,"t":"T-3","v":0.03,"lbl":"42"},{"row":1,"t":"T-2","v":0.034,"lbl":"42"},{"row":1,"t":"T-1","v":0.2,"lbl":"30"},{"row":1,"t":"T","v":0.001,"lbl":"30"},
{"row":2,"t":"T-10","v":0.01,"lbl":"30"},{"row":2,"t":"T-9","v":0.012,"lbl":"30"},{"row":2,"t":"T-8","v":0.018,"lbl":"30"},{"row":2,"t":"T-7","v":0.018,"lbl":"30"},{"row":2,"t":"T-6","v":0.022,"lbl":"30"},{"row":2,"t":"T-5","v":0.157,"lbl":"42"},{"row":2,"t":"T-4","v":0.2,"lbl":"42"},{"row":2,"t":"T-3","v":0.198,"lbl":"42"},{"row":2,"t":"T-2","v":0.033,"lbl":"30"},{"row":2,"t":"T-1","v":0.037,"lbl":"30"},{"row":2,"t":"T","v":0.002,"lbl":"42"},
{"row":3,"t":"T-10","v":0.008,"lbl":"30"},{"row":3,"t":"T-9","v":0.012,"lbl":"30"},{"row":3,"t":"T-8","v":0.015,"lbl":"30"},{"row":3,"t":"T-7","v":0.022,"lbl":"30"},{"row":3,"t":"T-6","v":0.1,"lbl":"42"},{"row":3,"t":"T-5","v":0.118,"lbl":"42"},{"row":3,"t":"T-4","v":0.138,"lbl":"42"},{"row":3,"t":"T-3","v":0.022,"lbl":"30"},{"row":3,"t":"T-2","v":0.028,"lbl":"30"},{"row":3,"t":"T-1","v":0.2,"lbl":"42"},{"row":3,"t":"T","v":0.002,"lbl":"42"}
]
},
"concat":[
{
"hconcat":[
{"width":123.5,"height":97,"data":{"name":"p1"},"mark":{"type":"rect","stroke":"#9a9aaa","strokeWidth":0.5},
"encoding":{
"x":{"field":"c","type":"ordinal","scale":{"domain":[0,1,2,3,4,5,6,7,8,9,10,11,12,13,14,15,16,17,18,19],"range":[26.5,123.5]},"axis":{"values":[0,10],"labelAngle":0,"title":"Past Exercise Index","titleX":75}},
"y":{"field":"r","type":"ordinal","scale":{"domain":[0,1,2,3,4,5,6,7,8,9,10,11,12,13,14,15,16,17,18,19]},"axis":{"values":[0,10],"labelAngle":270,"labelAlign":"center","labelBaseline":"bottom","labelPadding":2.5,"offset":-26.5,"title":"Present Exercise Index","titleX":-18,"titleY":48.5,"titleAngle":270,"titleAlign":"center","titleBaseline":"bottom"}},
"color":{"field":"v","type":"quantitative","scale":{"domain":[0,0.0142857,0.0285714,0.0428571,0.0571429,0.0714286,0.0857143,0.1],"range":["#03051a","#35193e","#701f57","#ad1759","#e13342","#f37651","#f6b48f","#faebdd"],"clamp":true},
"legend":{"orient":"none","direction":"horizontal","legendX":103,"legendY":130,"gradientLength":156,"gradientThickness":8,"title":null,"values":[0,0.02,0.04,0.06,0.08,0.1],"format":".2f","labelAlign":"center","labelOffset":6}}}},
{"width":97,"height":97,"data":{"name":"p2"},"mark":{"type":"rect","stroke":"#9a9aaa","strokeWidth":0.5},
"encoding":{
"x":{"field":"c","type":"ordinal","scale":{"domain":[0,1,2,3,4,5,6,7,8,9,10,11,12,13,14,15,16,17,18,19]},"axis":{"values":[0,10],"labelAngle":0,"title":"Past Exercise Index"}},
"y":{"field":"r","type":"ordinal","scale":{"domain":[0,1,2,3,4,5,6,7,8,9,10,11,12,13,14,15,16,17,18,19]},"axis":{"values":[0,10],"labels":false,"title":null}},
"color":{"field":"v","type":"quantitative","scale":{"domain":[0,0.0142857,0.0285714,0.0428571,0.0571429,0.0714286,0.0857143,0.1],"range":["#03051a","#35193e","#701f57","#ad1759","#e13342","#f37651","#f6b48f","#faebdd"],"clamp":true},
"legend":{"orient":"none","direction":"horizontal","legendX":103,"legendY":130,"gradientLength":156,"gradientThickness":8,"title":null,"values":[0,0.02,0.04,0.06,0.08,0.1],"format":".2f","labelAlign":"center","labelOffset":6}}}},
{"width":97,"height":97,"data":{"name":"p3"},"mark":{"type":"rect","stroke":"#9a9aaa","strokeWidth":0.5},
"encoding":{
"x":{"field":"c","type":"ordinal","scale":{"domain":[0,1,2,3,4,5,6,7,8,9,10,11,12,13,14,15,16,17,18,19]},"axis":{"values":[0,10],"labelAngle":0,"title":"Past Exercise Index"}},
"y":{"field":"r","type":"ordinal","scale":{"domain":[0,1,2,3,4,5,6,7,8,9,10,11,12,13,14,15,16,17,18,19]},"axis":{"values":[0,10],"labels":false,"title":null}},
"color":{"field":"v","type":"quantitative","scale":{"domain":[0,0.0142857,0.0285714,0.0428571,0.0571429,0.0714286,0.0857143,0.1],"range":["#03051a","#35193e","#701f57","#ad1759","#e13342","#f37651","#f6b48f","#faebdd"],"clamp":true},
"legend":{"orient":"none","direction":"horizontal","legendX":103,"legendY":130,"gradientLength":156,"gradientThickness":8,"title":null,"values":[0,0.02,0.04,0.06,0.08,0.1],"format":".2f","labelAlign":"center","labelOffset":6}}}}
],
"spacing":6,
"resolve":{"scale":{"color":"shared","x":"independent","y":"independent"},"legend":{"color":"shared"}},
"title":{"text":"(a)","orient":"bottom","anchor":"middle","frame":"bounds","offset":17}
},
{
"width":290,"height":96,"data":{"name":"bt"},
"encoding":{
"x":{"field":"t","type":"ordinal","sort":["T-10","T-9","T-8","T-7","T-6","T-5","T-4","T-3","T-2","T-1","T"],"scale":{"paddingInner":0,"paddingOuter":0},"axis":{"labelAngle":0,"ticks":false,"labelPadding":5,"labelFontSize":8,"titleFontSize":8,"title":"Time Index","titlePadding":3}},
"y":{"field":"row","type":"ordinal","scale":{"paddingInner":0.23,"paddingOuter":0},"axis":null}
},
"layer":[
{"mark":{"type":"rect","stroke":"#8a8a9a","strokeWidth":0.6},
"encoding":{"color":{"field":"v","type":"quantitative","scale":{"domain":[0,0.0285714,0.0571429,0.0857143,0.1142857,0.1428571,0.1714286,0.2],"range":["#03051a","#35193e","#701f57","#ad1759","#e13342","#f37651","#f6b48f","#faebdd"],"clamp":true},
"legend":{"orient":"none","direction":"vertical","legendX":310,"legendY":3,"gradientLength":88,"gradientThickness":4.5,"title":null,"values":[0,0.05,0.1,0.15,0.2],"format":".2f","labelBaseline":"middle","labelOffset":5}}}},
{"mark":{"type":"text","fontSize":8,"font":"DejaVu Sans"},
"encoding":{"text":{"field":"lbl"},"color":{"condition":{"test":"datum.v > 0.15","value":"#262626"},"value":"#ffffff"}}}
],
"title":{"text":"(b)","orient":"bottom","anchor":"middle","frame":"bounds","offset":19}
}
],
"columns":1,
"spacing":19,
"resolve":{"scale":{"color":"independent"},"legend":{"color":"independent"}}
}
